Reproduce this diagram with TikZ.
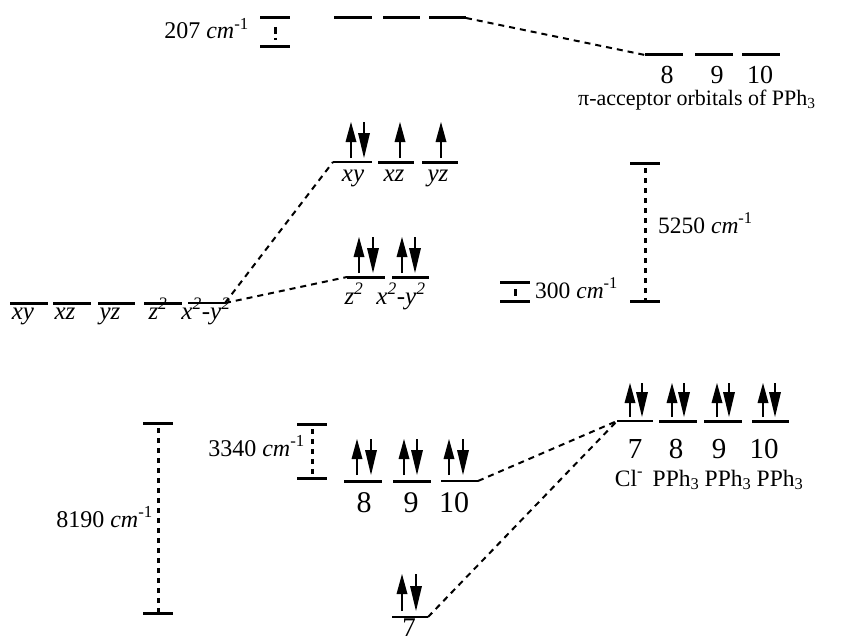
\documentclass[tikz,border=0pt]{standalone}
\usepackage{fontspec}
\setmainfont{Liberation Serif}
\newcommand\mklevel[5]{\coordinate (#1l) at (#2,#4); \coordinate (#1r) at (#3,#4); \draw[#5] (#1l) -- (#1r);}
% up spin: x, bottom, top
\newcommand\upspin[3]{\draw[shaft] (#1,#2) -- (#1,#3+18); \fill (#1,#3) -- (#1-5.5,#3+20) -- (#1+5.5,#3+20) -- cycle;}
% down spin: x, bottom, top
\newcommand\downspin[3]{\draw[shaft] (#1,#3) -- (#1,#2-23); \fill (#1,#2) -- (#1-6,#2-25) -- (#1+6,#2-25) -- cycle;}
\newcommand\pairspin[4]{\upspin{#1}{#3}{#4}\downspin{#2}{#3}{#4}}
\newcommand\wn{\textit{cm}\textsuperscript{-1}}
\begin{document}
\begin{tikzpicture}[x=1pt,y=-1pt,
 lvl/.style={line width=3pt},
 lvlthin/.style={line width=1.6pt},
 conn/.style={line width=2pt,dash pattern=on 6pt off 5pt},
 gapline/.style={line width=3pt,dash pattern=on 5pt off 5pt},
 shaft/.style={line width=1.5pt},
 lab/.style={inner sep=0pt,anchor=base},
 f22/.style={font=\fontsize{22}{26}\selectfont},
 f23/.style={font=\fontsize{23.5}{27}\selectfont},
 f24/.style={font=\fontsize{24}{28}\selectfont},
 f25/.style={font=\fontsize{25}{29}\selectfont},
 f26/.style={font=\fontsize{26}{30}\selectfont},
 f27/.style={font=\fontsize{27}{31}\selectfont},
 f29/.style={font=\fontsize{29}{33}\selectfont},
 f30/.style={font=\fontsize{30}{34}\selectfont},
]
\useasboundingbox (0,0) rectangle (854,642);

% ---------- top: 207 cm-1 and pi-acceptor levels
\mklevel{b207t}{260}{290}{18}{lvl}
\mklevel{b207b}{260}{290}{47}{lvl}
\draw[line width=3pt,dash pattern=on 7pt off 4pt] (275,27) -- (275,40);
\node[lab,f24,anchor=base east] (t207) at (249,39) {207 \wn};

\mklevel{ta}{334}{372}{18}{lvl}
\mklevel{tb}{383}{420}{18}{lvl}
\mklevel{tc}{429}{466}{18}{lvl}

\mklevel{pa}{645}{683}{55}{lvl}
\mklevel{pb}{695}{733}{55}{lvl}
\mklevel{pc}{742}{780}{55}{lvl}
\draw[conn] (tcr) -- (pal);
\node[lab,f26] (p8) at (667,84) {8};
\node[lab,f26] (p9) at (717,84) {9};
\node[lab,f26] (p10) at (760,84) {10};
\node[lab,f22,anchor=base west] (pitext) at (578,105) {π-acceptor orbitals of PPh\textsubscript{3}};

% ---------- left d orbitals
\mklevel{d1}{10}{48}{303}{lvl}
\mklevel{d2}{53}{91}{303}{lvl}
\mklevel{d3}{98}{135}{303}{lvl}
\mklevel{d4}{144}{182}{303}{lvl}
\mklevel{d5}{188}{225}{303}{lvlthin}
\node[lab,f25] (ld1) at (23,319) {\textit{xy}};
\node[lab,f25] (ld2) at (65,319) {\textit{xz}};
\node[lab,f25] (ld3) at (110,319) {\textit{yz}};
\node[lab,f25] (ld4) at (158,319) {\textit{z\textsuperscript{2}}};
\node[lab,f25] (ld5) at (206,319) {\textit{x\textsuperscript{2}-y\textsuperscript{2}}};

% ---------- upper set
\mklevel{u1}{333}{372}{162}{lvlthin}
\mklevel{u2}{378}{414}{162}{lvl}
\mklevel{u3}{422}{458}{162}{lvl}
\pairspin{351}{364}{158}{122}
\upspin{400}{158}{122}
\upspin{441}{158}{122}
\node[lab,f25] (lu1) at (353,181) {\textit{xy}};
\node[lab,f25] (lu2) at (394,181) {\textit{xz}};
\node[lab,f25] (lu3) at (438,181) {\textit{yz}};

% ---------- middle set
\mklevel{m1}{347}{385}{277}{lvl}
\mklevel{m2}{392}{429}{277}{lvl}
\pairspin{359}{373}{273}{237}
\pairspin{402}{415}{273}{237}
\node[lab,f25] (lm1) at (354,304) {\textit{z\textsuperscript{2}}};
\node[lab,f25] (lm2) at (401,304) {\textit{x\textsuperscript{2}-y\textsuperscript{2}}};

\draw[conn] (d5r) -- (u1l);
\draw[conn] (d5r) -- (m1l);

% ---------- 300 and 5250 brackets
\mklevel{b300t}{500}{530}{282}{lvl}
\mklevel{b300b}{500}{530}{301}{lvl}
\draw[line width=3pt] (515,289) -- (515,296);
\node[lab,f23,anchor=base west] (t300) at (535,298) {300 \wn};

\mklevel{b5250t}{630}{660}{163}{lvl}
\mklevel{b5250b}{630}{660}{301}{lvl}
\draw[gapline,dash phase=-5pt] (645,163) -- (645,301);
\node[lab,f23,anchor=base west] (t5250) at (658,233) {5250 \wn};

% ---------- bottom left brackets
\mklevel{b8190t}{143}{173}{423}{lvl}
\mklevel{b8190b}{143}{173}{613}{lvl}
\draw[gapline,dash phase=-5pt] (158,423) -- (158,613);
\node[lab,f24,anchor=base east] (t8190) at (153,527) {8190 \wn};

\mklevel{b3340t}{297}{327}{424}{lvl}
\mklevel{b3340b}{297}{327}{478}{lvl}
\draw[gapline,dash phase=-5pt] (312,424) -- (312,478);
\node[lab,f24,anchor=base east] (t3340) at (305,456) {3340 \wn};

% ---------- bottom PPh3 sigma levels
\mklevel{s8}{344}{382}{481}{lvl}
\mklevel{s9}{393}{431}{481}{lvl}
\mklevel{s10}{441}{478}{481}{lvlthin}
\pairspin{357}{371}{475}{439}
\pairspin{404}{417}{475}{439}
\pairspin{449}{463}{475}{439}
\node[lab,f30] (ls8) at (364,512) {8};
\node[lab,f30] (ls9) at (411,512) {9};
\node[lab,f30] (ls10) at (454,512) {10};

\mklevel{s7}{392}{428}{617}{lvlthin}
\pairspin{402}{416}{611}{574}
\node[lab,f27] (ls7) at (409,636) {7};

% ---------- right ligand levels
\mklevel{r7}{617}{653}{421}{lvlthin}
\mklevel{r8}{659}{697}{421}{lvl}
\mklevel{r9}{704}{742}{421}{lvl}
\mklevel{r10}{752}{789}{421}{lvl}
\pairspin{630}{642}{417}{383}
\pairspin{672}{684}{417}{383}
\pairspin{717}{729}{417}{383}
\pairspin{763}{775}{417}{383}
\node[lab,f29] (lr7) at (635,458) {7};
\node[lab,f29] (lr8) at (676,458) {8};
\node[lab,f29] (lr9) at (719,458) {9};
\node[lab,f29] (lr10) at (764,458) {10};
\node[lab,f23] (nr7) at (629,486) {Cl\textsuperscript{-}};
\node[lab,f23] (nr8) at (676,486) {PPh\textsubscript{3}};
\node[lab,f23] (nr9) at (728,486) {PPh\textsubscript{3}};
\node[lab,f23] (nr10) at (780,486) {PPh\textsubscript{3}};

\draw[conn] (s10r) -- (r7l);
\draw[conn] (s7r) -- (r7l);
\end{tikzpicture}
\end{document}
